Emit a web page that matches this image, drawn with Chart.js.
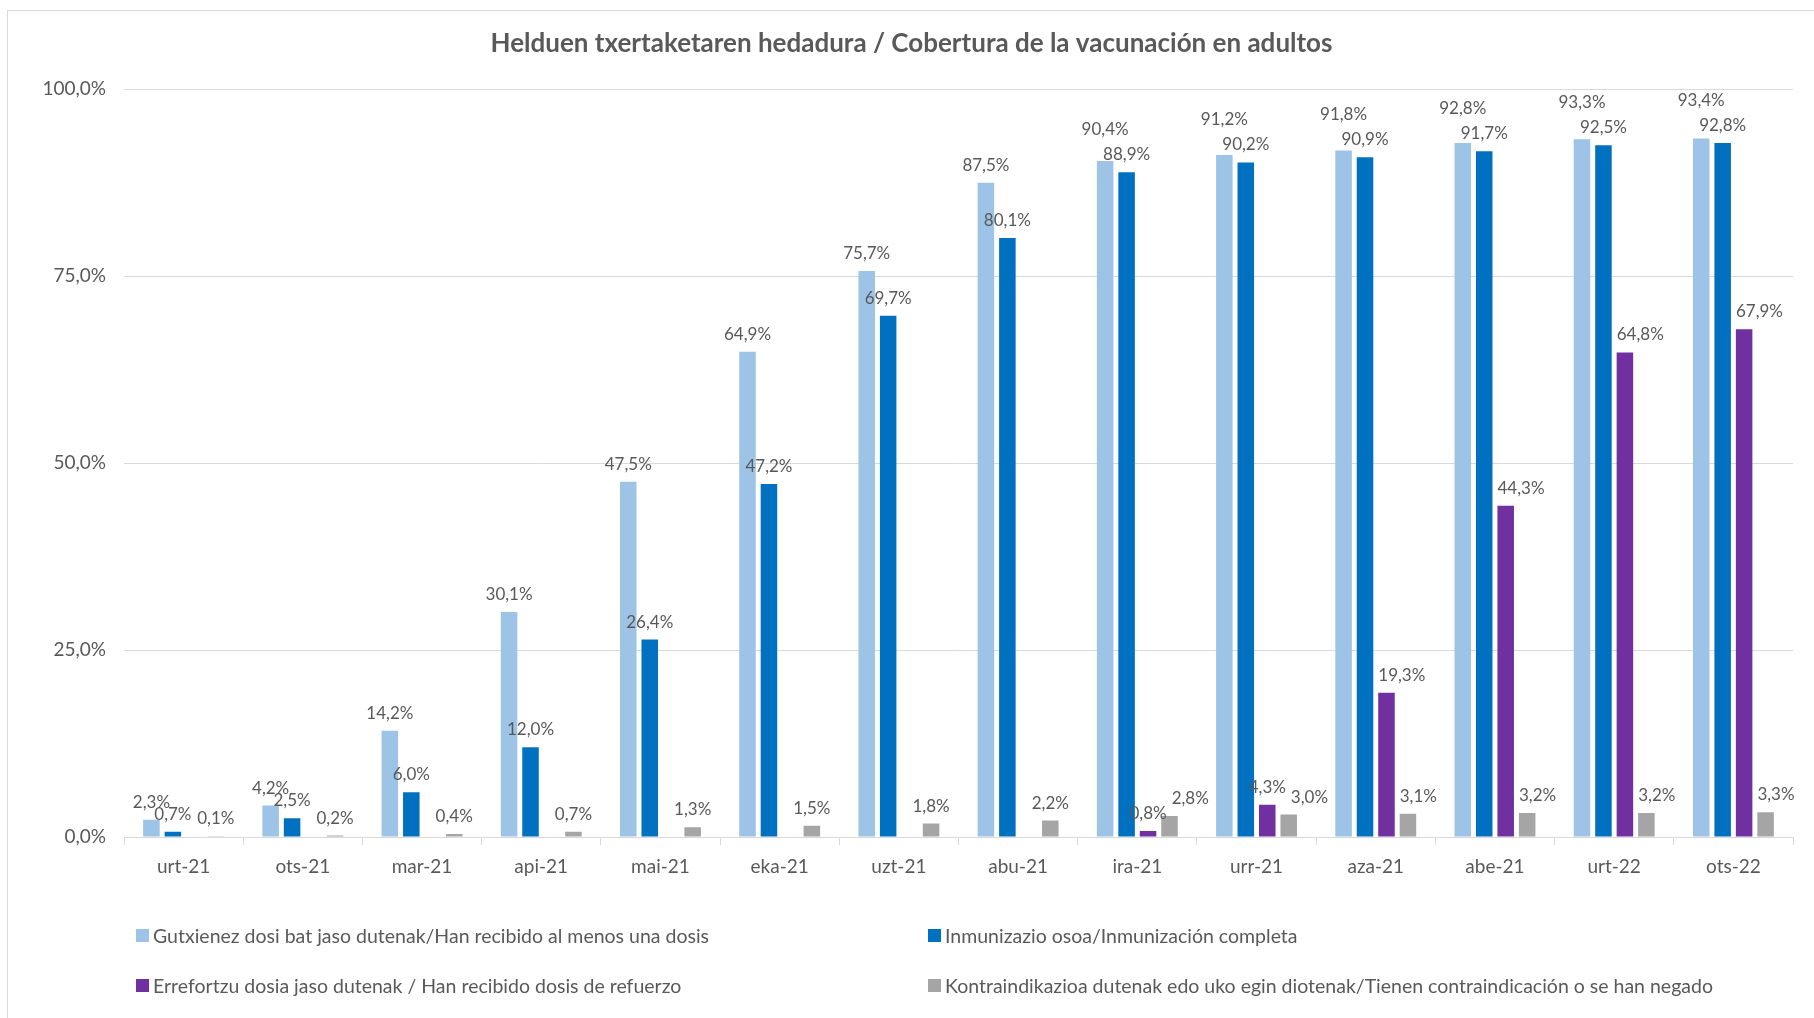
<!DOCTYPE html>
<html>
<head>
<meta charset="utf-8">
<script src="https://cdn.jsdelivr.net/npm/chart.js@4.4.1/dist/chart.umd.min.js"></script>
<style>
  body { margin: 0; background: #fff; font-family: Lato, sans-serif; }
  #wrap { position: relative; width: 1814px; height: 1018px; overflow: hidden; }
  #frame { position: absolute; left: 7px; top: 10px; width: 1900px; height: 1100px; border: 1px solid #d9d9d9; }
  #chart { position: absolute; left: 0; top: 0; }
  .legend-item { position: absolute; display: flex; align-items: center; font-size: 19.5px; color: #595959; white-space: nowrap; }
  .legend-item span.box { width: 13px; height: 13px; margin-right: 4px; display: inline-block; }
</style>
</head>
<body>
<div id="wrap">
  <div id="frame"></div>
  <canvas id="chart" width="1814" height="1018"></canvas>
  <div id="legend"></div>
</div>
<script>
const months = ["urt-21", "ots-21", "mar-21", "api-21", "mai-21", "eka-21", "uzt-21", "abu-21", "ira-21", "urr-21", "aza-21", "abe-21", "urt-22", "ots-22"];
const atLeastOne = [2.3, 4.2, 14.2, 30.1, 47.5, 64.9, 75.7, 87.5, 90.4, 91.2, 91.8, 92.8, 93.3, 93.4];
const fullyVaccinated = [0.7, 2.5, 6.0, 12.0, 26.4, 47.2, 69.7, 80.1, 88.9, 90.2, 90.9, 91.7, 92.5, 92.8];
const booster = [null, null, null, null, null, null, null, null, 0.8, 4.3, 19.3, 44.3, 64.8, 67.9];
const refused = [0.1, 0.2, 0.4, 0.7, 1.3, 1.5, 1.8, 2.2, 2.8, 3.0, 3.1, 3.2, 3.2, 3.3];
const yTicks = [0, 25, 50, 75, 100];

const fmt = v => v.toFixed(1).replace('.', ',') + '%';

Chart.defaults.font.family = 'Lato';
Chart.defaults.color = '#595959';

const overlaps = (a, b) => a && b && a.l < b.r && b.l < a.r && a.t < b.b && b.t < a.b;
const labelBox = p => p && { l: p.x - p.w / 2, r: p.x + p.w / 2, t: p.y - 13, b: p.y + 2 };
const barBox = (bar, v) => v === null ? null : { l: bar.x - bar.width / 2, r: bar.x + bar.width / 2, t: bar.y, b: bar.base };

// value labels above the bars, nudged a little where they would collide
const barLabels = {
    id: 'barLabels',
    afterDatasetsDraw(chart) {
        const ctx = chart.ctx;
        ctx.save();
        ctx.font = '17px Lato';
        ctx.fillStyle = '#595959';
        ctx.textAlign = 'center';
        ctx.textBaseline = 'alphabetic';
        const sets = chart.data.datasets;
        const metas = sets.map((ds, i) => chart.getDatasetMeta(i).data);
        const pos = sets.map((ds, i) => metas[i].map((bar, j) => {
            const v = ds.data[j];
            if (v === null) return null;
            const text = fmt(v);
            return { x: bar.x, y: bar.y - 12, w: ctx.measureText(text).width, text };
        }));
        // first series: lift above the second series' label
        pos[0].forEach((p, j) => {
            const q = pos[1][j];
            if (p && q && q.y - p.y < 11.5) p.y = q.y - 25;
        });
        // later series: slide right past the bar / label on the left
        for (let i = 2; i < sets.length; i++) {
            pos[i].forEach((p, j) => {
                if (!p) return;
                const obstacles = [barBox(metas[i - 1][j], sets[i - 1].data[j]), labelBox(pos[i - 1][j])]
                    .filter(o => overlaps(o, labelBox(p)));
                if (!obstacles.length) return;
                const left = Math.max(...obstacles.map(o => o.r)) + 5;
                const cand = { ...p, x: left + p.w / 2 };
                const next = i + 1 < sets.length ? [barBox(metas[i + 1][j], sets[i + 1].data[j]), labelBox(pos[i + 1][j])] : [];
                if (next.some(o => overlaps(o, labelBox(cand)))) return;
                p.x = cand.x;
            });
        }
        pos.forEach(list => list.forEach(p => { if (p) ctx.fillText(p.text, p.x, p.y); }));
        ctx.restore();
    }
};

const chart = new Chart(document.getElementById('chart'), {
    type: 'bar',
    data: {
        labels: months,
        datasets: [{
            label: "Gutxienez dosi bat jaso dutenak/Han recibido al menos una dosis",
            data: atLeastOne,
            backgroundColor: "#9DC3E6"
        }, {
            label: "Inmunizazio osoa/Inmunización completa",
            data: fullyVaccinated,
            backgroundColor: "#0070C0"
        }, {
            label: "Errefortzu dosia jaso dutenak / Han recibido dosis de refuerzo",
            data: booster,
            backgroundColor: "#7030A0"
        }, {
            label: "Kontraindikazioa dutenak edo uko egin diotenak/Tienen contraindicación o se han negado",
            data: refused,
            backgroundColor: "#A5A5A5"
        }]
    },
    options: {
        responsive: false,
        animation: false,
        categoryPercentage: 0.72,
        barPercentage: 0.77,
        layout: { padding: { left: 30, right: 21, top: 0, bottom: 131 } },
        plugins: {
            legend: { display: false },
            tooltip: { enabled: false },
            title: {
                display: true,
                text: 'Helduen txertaketaren hedadura / Cobertura de la vacunación en adultos',
                font: { size: 26, weight: 'bold' },
                color: '#595959',
                padding: { top: 28, bottom: 30 }
            }
        },
        scales: {
            x: {
                grid: { drawOnChartArea: false, color: '#d9d9d9', tickLength: 8 },
                border: { color: '#d9d9d9' },
                ticks: { font: { size: 19 }, padding: 10 },
                afterFit(scale) { scale.height = 50; }
            },
            y: {
                min: 0,
                max: 100,
                afterBuildTicks(scale) { scale.ticks = yTicks.map(v => ({ value: v })); },
                grid: { color: '#d9d9d9', drawTicks: false },
                border: { display: false },
                ticks: { font: { size: 19 }, padding: 18, callback: v => fmt(v) },
                afterFit(scale) { scale.width = 94; }
            }
        }
    },
    plugins: [barLabels]
});

// two-column legend like the original
const legendPos = [[136, 935], [928, 935], [136, 985], [928, 985]];
const legend = document.getElementById('legend');
Chart.defaults.plugins.legend.labels.generateLabels(chart).forEach((item, i) => {
    const el = document.createElement('div');
    el.className = 'legend-item';
    el.style.left = legendPos[i][0] + 'px';
    el.style.top = (legendPos[i][1] - 12) + 'px';
    el.style.height = '24px';
    el.innerHTML = '<span class="box" style="background:' + item.fillStyle + '"></span>' + item.text;
    legend.appendChild(el);
});
</script>
</body>
</html>
